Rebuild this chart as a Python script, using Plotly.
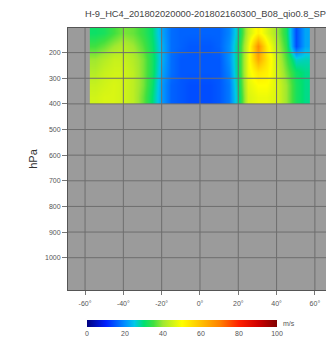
import plotly.graph_objects as go

title_text = "H-9_HC4_201802020000-201802160300_B08_qio0.8_SP"

lat = [-55, -50, -45, -40, -35, -30, -25, -20, -15, -10, -5, 0,
       5, 10, 15, 20, 25, 30, 35, 40, 45, 50, 55]
pressure = [125, 175, 225, 275, 325, 375]

speed = [
    [31, 32, 35, 38, 37, 34, 30, 22, 17, 16, 16, 16, 16, 16, 19, 28, 44, 52, 46, 40, 32, 14, 22],
    [35, 37, 40, 42, 40, 36, 31, 23, 17, 16, 15, 15, 15, 16, 20, 30, 47, 68, 52, 42, 34, 14, 22],
    [40, 42, 44, 44, 42, 38, 32, 23, 17, 15, 15, 15, 15, 15, 20, 30, 48, 64, 54, 44, 36, 26, 27],
    [42, 44, 45, 45, 43, 38, 32, 22, 17, 15, 15, 15, 15, 15, 19, 30, 48, 54, 52, 45, 38, 31, 29],
    [44, 45, 46, 45, 43, 38, 31, 21, 16, 15, 14, 14, 14, 15, 18, 29, 47, 50, 50, 46, 40, 32, 29],
    [45, 46, 46, 45, 43, 37, 30, 21, 16, 15, 14, 14, 14, 15, 18, 28, 46, 48, 48, 46, 40, 32, 29],
]

x_ticks = [-60, -40, -20, 0, 20, 40, 60]
x_labels = [f"{v}°" for v in x_ticks]
y_ticks = [200, 300, 400, 500, 600, 700, 800, 900, 1000]
cbar_ticks = [0, 20, 40, 60, 80, 100]

colorscale = [
    [0.00, "#00007f"],
    [0.10, "#0020ff"],
    [0.20, "#0090ff"],
    [0.25, "#00c8e8"],
    [0.30, "#00e070"],
    [0.35, "#40e040"],
    [0.40, "#a0e830"],
    [0.50, "#ffff00"],
    [0.60, "#ffc000"],
    [0.70, "#ff8000"],
    [0.80, "#ff2000"],
    [0.90, "#d00000"],
    [1.00, "#800000"],
]

plot_w = 326 - 68
plot_h = 339 - 28 - 49

fig = go.Figure()
fig.add_trace(go.Heatmap(
    x=lat, y=pressure, z=speed,
    zmin=0, zmax=100, zsmooth="best",
    colorscale=colorscale,
    colorbar=dict(
        orientation="h", x=(87 - 68) / plot_w, xanchor="left", xpad=0, ypad=0,
        len=190, lenmode="pixels",
        y=-(320 - 290) / plot_h, yanchor="top", thickness=7, outlinewidth=0,
        tickvals=cbar_ticks, ticks="", ticklabelposition="outside bottom",
        tickfont=dict(size=7, color="#555555", family="Liberation Sans"),
    ),
))

shapes = []
for xv in x_ticks:
    shapes.append(dict(type="line", xref="x", yref="paper", x0=xv, x1=xv, y0=0, y1=1,
                       line=dict(color="#6e6e6e", width=1), layer="above"))
for yv in y_ticks:
    shapes.append(dict(type="line", xref="paper", yref="y", x0=0, x1=1, y0=yv, y1=yv,
                       line=dict(color="#6e6e6e", width=1), layer="above"))

fig.update_layout(
    width=326, height=339,
    margin=dict(l=68, r=0, t=28, b=49, autoexpand=False),
    paper_bgcolor="white", plot_bgcolor="#9b9b9b",
    shapes=shapes,
    font=dict(family="Liberation Sans", size=7, color="#555555"),
    annotations=[
        dict(text=title_text, xref="paper", yref="paper", x=(83 - 68) / plot_w, y=1.0,
             xanchor="left", yanchor="bottom", yshift=7, showarrow=False,
             font=dict(size=9.3, color="#444444", family="Liberation Sans")),
        dict(text="m/s", xref="paper", yref="paper", x=(281 - 68) / plot_w, y=-(323.5 - 290) / plot_h,
             xanchor="left", yanchor="middle", showarrow=False,
             font=dict(size=7, color="#555555", family="Liberation Sans")),
    ],
)
fig.update_xaxes(range=[-68.9, 65.8], tickvals=x_ticks, ticktext=x_labels, showgrid=False,
                 ticks="outside", ticklen=4, tickcolor="#777777", zeroline=False,
                 showline=True, linecolor="#555555", linewidth=1, mirror=True,
                 tickfont=dict(size=7, color="#555555"), ticklabelstandoff=3)
fig.update_yaxes(range=[1126, 104], tickvals=y_ticks, showgrid=False,
                 ticks="outside", ticklen=5, tickcolor="#777777", zeroline=False,
                 showline=True, linecolor="#555555", linewidth=1, mirror=True,
                 title=dict(text="hPa", font=dict(size=11, color="#333333"), standoff=5),
                 tickfont=dict(size=7, color="#555555"))

fig.write_html("out.html")
